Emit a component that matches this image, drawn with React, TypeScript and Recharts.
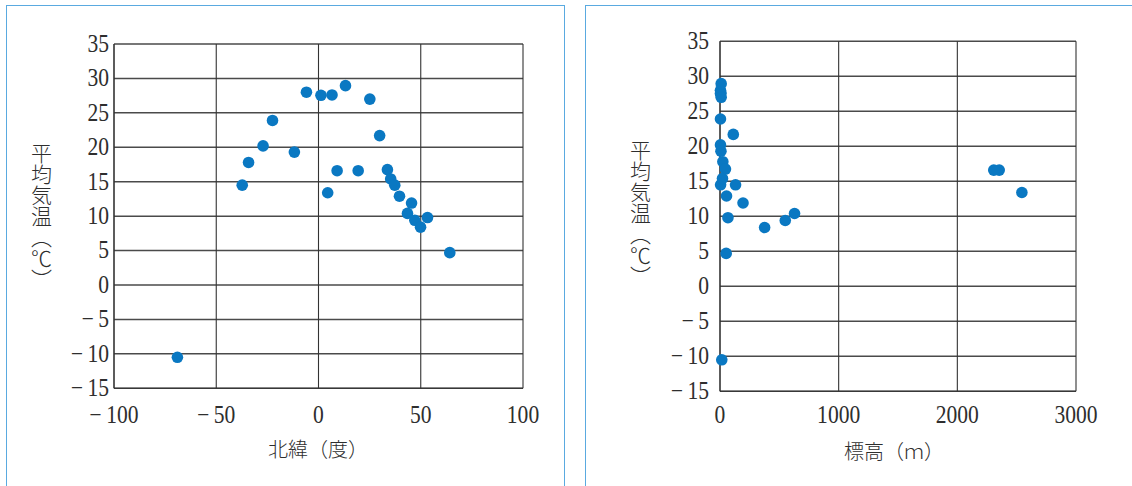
import React from "react";
import { ScatterChart, Scatter, XAxis, YAxis, CartesianGrid } from "recharts";

// Observation sites: latitude (deg N), elevation (m), mean temperature (°C)
const latitude = [-69, -37.3, -34.2, -27.1, -22.5, -11.8, -5.9, 1.2, 6.6, 13.2, 25.1, 29.9, 4.5, 9.1, 19.4, 33.7, 35.3, 37.3, 39.6, 45.5, 43.5, 47.1, 49.9, 53.3, 64.2];
const elevation = [15, 5, 24, 4, 4, 8, 4, 4, 8, 10, 10, 112, 2544, 2353, 2307, 46, 21, 131, 55, 194, 628, 550, 376, 67, 52];
const temperature = [-10.5, 14.5, 17.8, 20.2, 23.9, 19.3, 28.0, 27.55, 27.6, 28.95, 27.0, 21.7, 13.4, 16.6, 16.6, 16.75, 15.4, 14.5, 12.9, 11.9, 10.4, 9.4, 8.4, 9.8, 4.7];

const tempTicks = [-15, -10, -5, 0, 5, 10, 15, 20, 25, 30, 35];
const latTicks = [-100, -50, 0, 50, 100];
const elevTicks = [0, 1000, 2000, 3000];

const yTitle = "平均気温（℃）";
const latTitle = "北緯（度）";
const elevTitle = "標高（ｍ）";

const latData = latitude.map((x, i) => ({ x, y: temperature[i] }));
const elevData = elevation.map((x, i) => ({ x, y: temperature[i] }));

const DOT = "#0a78c2";
const INK = "#2e2e2e";
const NUM_FONT = "Liberation Serif, DejaVu Serif, serif";
const CJK_FONT = "'Noto Sans CJK JP', 'Noto Sans CJK SC', sans-serif";

const NumLabel = ({ value, anchor }: { value: number; anchor: "end" | "middle" }) => {
  const neg = value < 0;
  return (
    <text
      x={0}
      y={0}
      textAnchor={anchor}
      style={{ fontFamily: NUM_FONT, fontSize: 24.5, fill: INK }}
    >
      {neg ? (
        <>
          <tspan>−</tspan>
          <tspan dx={5}>{String(-value)}</tspan>
        </>
      ) : (
        String(value)
      )}
    </text>
  );
};

const YTick = (props: any) => {
  const { x, y, payload } = props;
  return (
    <g transform={`translate(${x},${y + 7.8}) scale(0.88,1)`}>
      <NumLabel value={payload.value} anchor="end" />
    </g>
  );
};

const makeXTick = (dy: number) => (props: any) => {
  const { x, y, payload } = props;
  return (
    <g transform={`translate(${x},${y + dy}) scale(0.88,1)`}>
      <NumLabel value={payload.value} anchor="middle" />
    </g>
  );
};

const Dot = (props: any) => <circle cx={props.cx} cy={props.cy} r={5.8} fill={DOT} />;

const panelStyle = (left: number, width: number): React.CSSProperties => ({
  position: "absolute",
  left,
  top: 5,
  width,
  height: 500,
  border: "1.5px solid #5aaae0",
  boxSizing: "border-box",
  background: "#fff",
});

const vTitle = (cx: number, top: number): React.CSSProperties => ({
  position: "absolute",
  left: cx - 10.5,
  top,
  writingMode: "vertical-rl",
  fontFamily: CJK_FONT,
  fontSize: 21,
  lineHeight: "21px",
  fontWeight: 300,
  color: INK,
  whiteSpace: "nowrap",
});

const hTitle = (cx: number, cy: number): React.CSSProperties => ({
  position: "absolute",
  left: cx,
  top: cy - 11,
  transform: "translateX(-50%)",
  fontFamily: CJK_FONT,
  fontSize: 20,
  lineHeight: "22px",
  fontWeight: 300,
  color: INK,
  whiteSpace: "nowrap",
});

export default function App() {
  return (
    <div style={{ position: "absolute", left: 0, top: 0, width: 1132, height: 486, overflow: "hidden", background: "#fff" }}>
      <div style={panelStyle(6, 559)} />
      <div style={panelStyle(585, 560)} />

      {/* Temperature vs latitude */}
      <div style={{ position: "absolute", left: 0, top: 0 }}>
        <ScatterChart width={565} height={486} margin={{ top: 44, right: 42, bottom: 57.7, left: 0 }}>
          <CartesianGrid vertical={false} stroke="#4a4a4a" strokeWidth={1.5} />
          <CartesianGrid horizontal={false} stroke="#333" strokeWidth={1.1} />
          <XAxis
            type="number"
            dataKey="x"
            domain={[-100, 100]}
            ticks={latTicks}
            height={40}
            tickSize={0}
            tickMargin={0}
            tickLine={false}
            axisLine={{ stroke: "#333", strokeWidth: 1.1 }}
            tick={makeXTick(35)}
            interval={0}
          />
          <YAxis
            type="number"
            dataKey="y"
            domain={[-15, 35]}
            ticks={tempTicks}
            width={114}
            tickSize={0}
            tickMargin={5}
            tickLine={false}
            axisLine={{ stroke: "#333", strokeWidth: 1.1 }}
            tick={YTick}
            interval={0}
          />
          <Scatter data={latData} isAnimationActive={false} shape={Dot} />
        </ScatterChart>
      </div>

      {/* Temperature vs elevation */}
      <div style={{ position: "absolute", left: 585, top: 0 }}>
        <ScatterChart width={547} height={486} margin={{ top: 41.3, right: 56, bottom: 54.7, left: 0 }}>
          <CartesianGrid vertical={false} stroke="#4a4a4a" strokeWidth={1.5} />
          <CartesianGrid horizontal={false} stroke="#333" strokeWidth={1.1} />
          <XAxis
            type="number"
            dataKey="x"
            domain={[0, 3000]}
            ticks={elevTicks}
            height={40}
            tickSize={0}
            tickMargin={0}
            tickLine={false}
            axisLine={{ stroke: "#333", strokeWidth: 1.1 }}
            tick={makeXTick(32)}
            interval={0}
          />
          <YAxis
            type="number"
            dataKey="y"
            domain={[-15, 35]}
            ticks={tempTicks}
            width={135}
            tickSize={0}
            tickMargin={11}
            tickLine={false}
            axisLine={{ stroke: "#333", strokeWidth: 1.1 }}
            tick={YTick}
            interval={0}
          />
          <Scatter data={elevData} isAnimationActive={false} shape={Dot} />
        </ScatterChart>
      </div>

      <div style={vTitle(41, 143)}>{yTitle}</div>
      <div style={hTitle(318, 449)}>{latTitle}</div>
      <div style={vTitle(640, 140)}>{yTitle}</div>
      <div style={hTitle(894, 451)}>{elevTitle}</div>
    </div>
  );
}
